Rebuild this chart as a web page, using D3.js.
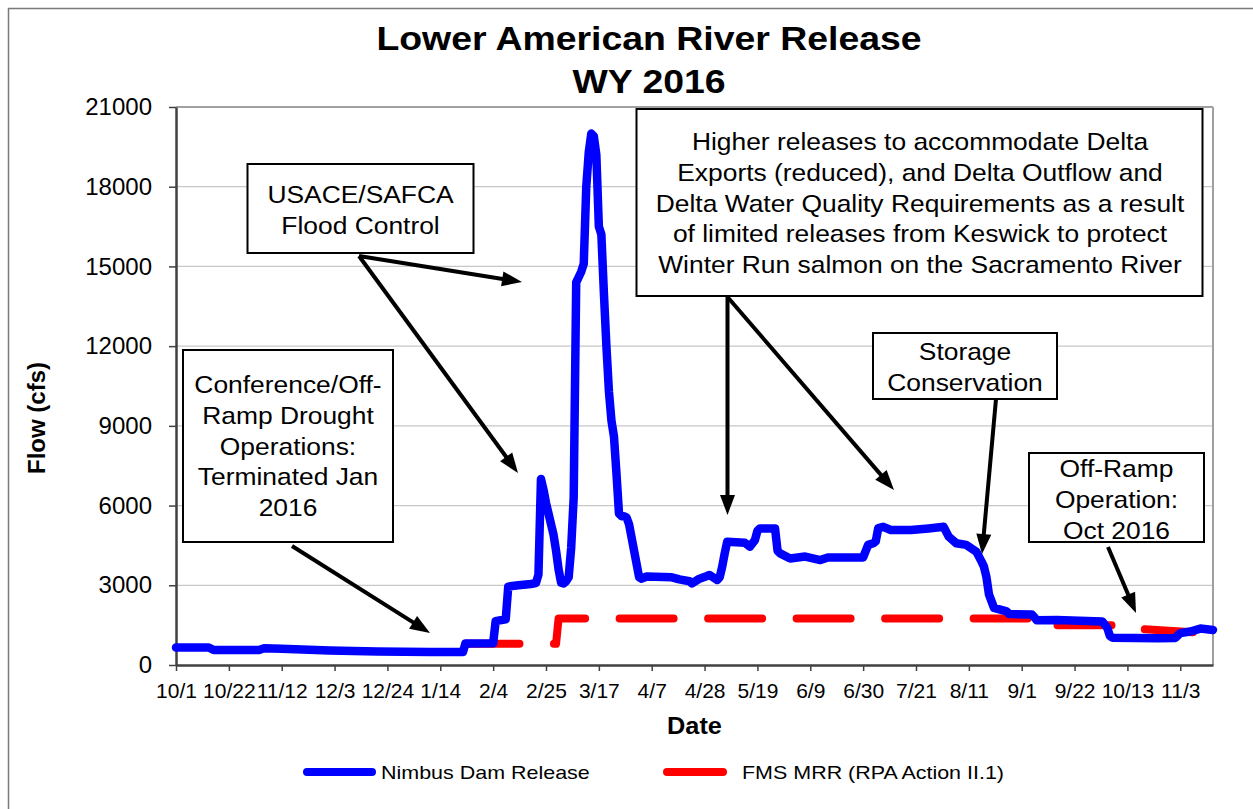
<!DOCTYPE html>
<html>
<head>
<meta charset="utf-8">
<script src="https://cdn.jsdelivr.net/npm/d3@7"></script>
<style>
  body { margin: 0; background: #fff; }
  svg { display: block; font-family: "Liberation Sans", Arial, sans-serif; }
</style>
</head>
<body>
<svg id="chart" width="1253" height="809"></svg>
<script>
// Nimbus Dam release (cfs)
var nimbusDates = [
  "2015-10-01", "2015-10-14", "2015-10-16", "2015-11-03", "2015-11-05", "2015-11-12",
  "2015-12-01", "2015-12-20", "2016-01-10", "2016-01-23", "2016-01-24", "2016-02-04",
  "2016-02-05", "2016-02-09", "2016-02-10", "2016-02-14", "2016-02-19", "2016-02-21",
  "2016-02-22", "2016-02-23", "2016-02-24", "2016-02-25", "2016-02-26", "2016-02-27",
  "2016-02-28", "2016-02-29", "2016-03-01", "2016-03-02", "2016-03-03", "2016-03-04",
  "2016-03-05", "2016-03-06", "2016-03-07", "2016-03-08", "2016-03-10", "2016-03-11",
  "2016-03-12", "2016-03-13", "2016-03-14", "2016-03-15", "2016-03-16", "2016-03-17",
  "2016-03-18", "2016-03-19", "2016-03-20", "2016-03-21", "2016-03-22", "2016-03-23",
  "2016-03-24", "2016-03-25", "2016-03-26", "2016-03-27", "2016-03-28", "2016-03-29",
  "2016-03-30", "2016-03-31", "2016-04-01", "2016-04-02", "2016-04-03", "2016-04-05",
  "2016-04-15", "2016-04-18", "2016-04-22", "2016-04-23", "2016-04-26", "2016-04-29",
  "2016-04-30", "2016-05-03", "2016-05-04", "2016-05-05", "2016-05-06", "2016-05-07",
  "2016-05-14", "2016-05-16", "2016-05-18", "2016-05-19", "2016-05-20", "2016-05-26",
  "2016-05-27", "2016-05-28", "2016-06-01", "2016-06-07", "2016-06-13", "2016-06-16",
  "2016-06-30", "2016-07-02", "2016-07-04", "2016-07-05", "2016-07-06", "2016-07-08",
  "2016-07-11", "2016-07-19", "2016-07-26", "2016-08-01", "2016-08-03", "2016-08-06",
  "2016-08-10", "2016-08-14", "2016-08-16", "2016-08-17", "2016-08-18", "2016-08-19",
  "2016-08-21", "2016-08-26", "2016-08-27", "2016-09-05", "2016-09-06", "2016-09-07",
  "2016-09-15", "2016-10-03", "2016-10-05", "2016-10-06", "2016-10-07", "2016-10-25",
  "2016-11-01", "2016-11-03", "2016-11-07", "2016-11-11", "2016-11-16"
];
var nimbusFlow = [
  660, 660, 565, 565, 630, 610,
  545, 510, 490, 490, 810, 820,
  1650, 1720, 2950, 3000, 3050, 3080,
  3400, 7000, 6600, 6100, 5700, 5300,
  4900, 4300, 3600, 3100, 3070, 3150,
  3300, 4400, 6300, 14400, 14800, 15100,
  18000, 19300, 20000, 19900, 19200, 16500,
  16200, 14000, 12000, 10300, 9200, 8600,
  7200, 5700, 5600, 5600, 5550, 5300,
  4800, 4300, 3800, 3300, 3250, 3330,
  3300, 3220, 3150, 3070, 3250, 3350,
  3390, 3200, 3300, 3700, 4200, 4640,
  4600, 4450, 4700, 5050, 5140, 5140,
  4300, 4200, 4010, 4080, 3950, 4050,
  4050, 4520, 4580, 4650, 5150, 5200,
  5080, 5080, 5140, 5200, 4830, 4580,
  4520, 4260, 3900, 3700, 3300, 2650,
  2150, 2020, 1920, 1900, 1800, 1680,
  1690, 1640, 1400, 1100, 1030, 1010,
  1020, 1200, 1260, 1370, 1320
];

// FMS minimum release requirement (RPA Action II.1)
var mrrDates = ["2016-01-24", "2016-02-29", "2016-03-01", "2016-09-05", "2016-09-06", "2016-10-10", "2016-10-11", "2016-11-08"];
var mrrFlow = [800, 800, 1750, 1750, 1500, 1500, 1400, 1230];

var xTickDates = [
  "2015-10-01", "2015-10-22", "2015-11-12", "2015-12-03", "2015-12-24", "2016-01-14",
  "2016-02-04", "2016-02-25", "2016-03-17", "2016-04-07", "2016-04-28", "2016-05-19",
  "2016-06-09", "2016-06-30", "2016-07-21", "2016-08-11", "2016-09-01", "2016-09-22",
  "2016-10-13", "2016-11-03"
];
var yTicks = [0, 3000, 6000, 9000, 12000, 15000, 18000, 21000];

(function() {
    var parse = d3.timeParse("%Y-%m-%d");
    var svg = d3.select('svg#chart');
    var SX = 1.1;   // picture text is a little wider than tall

    var plotL = 176, plotR = 1213, plotT = 107, plotB = 665;

    var x = d3.scaleTime()
        .domain([parse("2015-10-01"), parse("2016-11-16")])
        .range([plotL, plotR]);
    var y = d3.scaleLinear()
        .domain([0, 21000])
        .range([plotB, plotT]);

    // outer chart frame (only top/left visible)
    svg.append('path')
        .attr('d', 'M8.5,809 V8.5 H1253')
        .attr('fill', 'none')
        .attr('stroke', '#7a7a7a')
        .attr('stroke-width', 1.5);

    // gridlines
    svg.append('g').selectAll('line')
        .data(yTicks.filter(function(d) { return d > 0; }))
        .enter().append('line')
        .attr('x1', plotL).attr('x2', plotR)
        .attr('y1', function(d) { return y(d); })
        .attr('y2', function(d) { return y(d); })
        .attr('stroke', function(d) { return d === 21000 ? '#a0a0a0' : '#c8c8c8'; })
        .attr('stroke-width', function(d) { return d === 21000 ? 2 : 1.2; });

    svg.append('line')
        .attr('x1', plotR).attr('x2', plotR)
        .attr('y1', plotT).attr('y2', plotB)
        .attr('stroke', '#a0a0a0')
        .attr('stroke-width', 2);

    // axes
    var yAxis = svg.append('g')
        .attr('transform', 'translate(' + plotL + ',0)')
        .call(d3.axisLeft(y).tickValues(yTicks).tickFormat(d3.format("d"))
            .tickSize(7).tickPadding(17).tickSizeOuter(0));
    yAxis.selectAll('text').attr('font-size', 24).attr('fill', '#000');

    var xAxis = svg.append('g')
        .attr('transform', 'translate(0,' + plotB + ')')
        .call(d3.axisBottom(x).tickValues(xTickDates.map(parse))
            .tickFormat(d3.timeFormat("%-m/%-d")).tickSize(6).tickPadding(12).tickSizeOuter(0));
    xAxis.selectAll('text').attr('font-size', 21).attr('fill', '#000');

    [yAxis, xAxis].forEach(function(g) {
        g.attr('font-family', null);
        g.select('.domain').attr('stroke', '#404040').attr('stroke-width', 2.5);
        g.selectAll('.tick line').attr('stroke', '#404040').attr('stroke-width', 1.5);
    });

    // series
    var line = d3.line()
        .x(function(d) { return x(d.date); })
        .y(function(d) { return y(d.value); });

    var nimbus = nimbusDates.map(function(d, i) { return { date: parse(d), value: nimbusFlow[i] }; });
    var mrr = mrrDates.map(function(d, i) { return { date: parse(d), value: mrrFlow[i] }; });

    svg.append('path')
        .datum(mrr)
        .attr('d', line)
        .attr('fill', 'none')
        .attr('stroke', '#ff0000')
        .attr('stroke-width', 8)
        .attr('stroke-linecap', 'round')
        .attr('stroke-linejoin', 'round')
        .attr('stroke-dasharray', '54,34.5');

    svg.append('path')
        .datum(nimbus)
        .attr('d', line)
        .attr('fill', 'none')
        .attr('stroke', '#0000ff')
        .attr('stroke-width', 8.5)
        .attr('stroke-linecap', 'round')
        .attr('stroke-linejoin', 'round');

    // stretched text helper
    function label(parent, tx, ty, str, size, weight, anchor, sx) {
        return parent.append('text')
            .attr('transform', 'translate(' + tx + ',' + ty + ') scale(' + sx + ',1)')
            .attr('text-anchor', anchor)
            .attr('font-size', size)
            .attr('font-weight', weight)
            .attr('fill', '#000')
            .text(str);
    }

    // titles
    label(svg, 649, 50, "Lower American River Release", 34, 'bold', 'middle', SX);
    label(svg, 649, 93, "WY 2016", 34, 'bold', 'middle', SX);
    label(svg, (plotL + plotR) / 2, 734, "Date", 23, 'bold', 'middle', SX);
    svg.append('text')
        .attr('transform', 'translate(45,418) rotate(-90)')
        .attr('text-anchor', 'middle')
        .attr('font-size', 24)
        .attr('font-weight', 'bold')
        .text("Flow (cfs)");

    // annotation boxes
    var boxes = [
        { x: 247.5, y: 164, w: 226, h: 89, cx: 360.5, base: 203, lines: ["USACE/SAFCA", "Flood Control"] },
        { x: 636.5, y: 109, w: 566, h: 187, cx: 920, base: 150,
          lines: ["Higher releases to accommodate Delta", "Exports (reduced), and Delta Outflow and",
                  "Delta Water Quality Requirements as a result", "of limited releases from Keswick to protect",
                  "Winter Run salmon on the Sacramento River"] },
        { x: 183, y: 350, w: 210, h: 192, cx: 288, base: 393,
          lines: ["Conference/Off-", "Ramp Drought", "Operations:", "Terminated Jan", "2016"] },
        { x: 873, y: 333, w: 184, h: 66, cx: 965, base: 360, lines: ["Storage", "Conservation"] },
        { x: 1029, y: 453, w: 175, h: 89, cx: 1116.5, base: 477, lines: ["Off-Ramp", "Operation:", "Oct 2016"] }
    ];
    var lineGap = 30.8;

    boxes.forEach(function(b) {
        var g = svg.append('g');
        g.append('rect')
            .attr('x', b.x).attr('y', b.y)
            .attr('width', b.w).attr('height', b.h)
            .attr('fill', '#fff')
            .attr('stroke', '#000')
            .attr('stroke-width', 2);
        b.lines.forEach(function(t, i) {
            label(g, b.cx, b.base + i * lineGap, t, 24, 'normal', 'middle', SX);
        });
    });

    // arrows
    var arrows = [
        [359, 256, 522, 282],
        [359, 256, 518, 473],
        [727.5, 297, 727.5, 515],
        [727.5, 297, 894, 490],
        [996, 399, 982, 554],
        [292, 546, 430, 633],
        [1108, 547, 1136, 613]
    ];
    var headLen = 20, headHalf = 7.5;

    arrows.forEach(function(a) {
        var dx = a[2] - a[0], dy = a[3] - a[1];
        var len = Math.sqrt(dx * dx + dy * dy);
        var ux = dx / len, uy = dy / len;
        var bx = a[2] - ux * headLen, by = a[3] - uy * headLen;
        svg.append('line')
            .attr('x1', a[0]).attr('y1', a[1])
            .attr('x2', bx + ux * 2).attr('y2', by + uy * 2)
            .attr('stroke', '#000')
            .attr('stroke-width', 4);
        svg.append('polygon')
            .attr('points', [
                [a[2], a[3]],
                [bx - uy * headHalf, by + ux * headHalf],
                [bx + uy * headHalf, by - ux * headHalf]
            ].map(function(p) { return p.join(','); }).join(' '))
            .attr('fill', '#000');
    });

    // legend
    var legend = svg.append('g');
    legend.append('line')
        .attr('x1', 307).attr('x2', 372).attr('y1', 772).attr('y2', 772)
        .attr('stroke', '#0000ff').attr('stroke-width', 8).attr('stroke-linecap', 'round');
    label(legend, 381, 779, "Nimbus Dam Release", 19, 'normal', 'start', 1.13);
    legend.append('line')
        .attr('x1', 667).attr('x2', 723).attr('y1', 772).attr('y2', 772)
        .attr('stroke', '#ff0000').attr('stroke-width', 8).attr('stroke-linecap', 'round');
    label(legend, 742, 779, "FMS MRR (RPA Action II.1)", 19, 'normal', 'start', 1.13);
})();
</script>
</body>
</html>
